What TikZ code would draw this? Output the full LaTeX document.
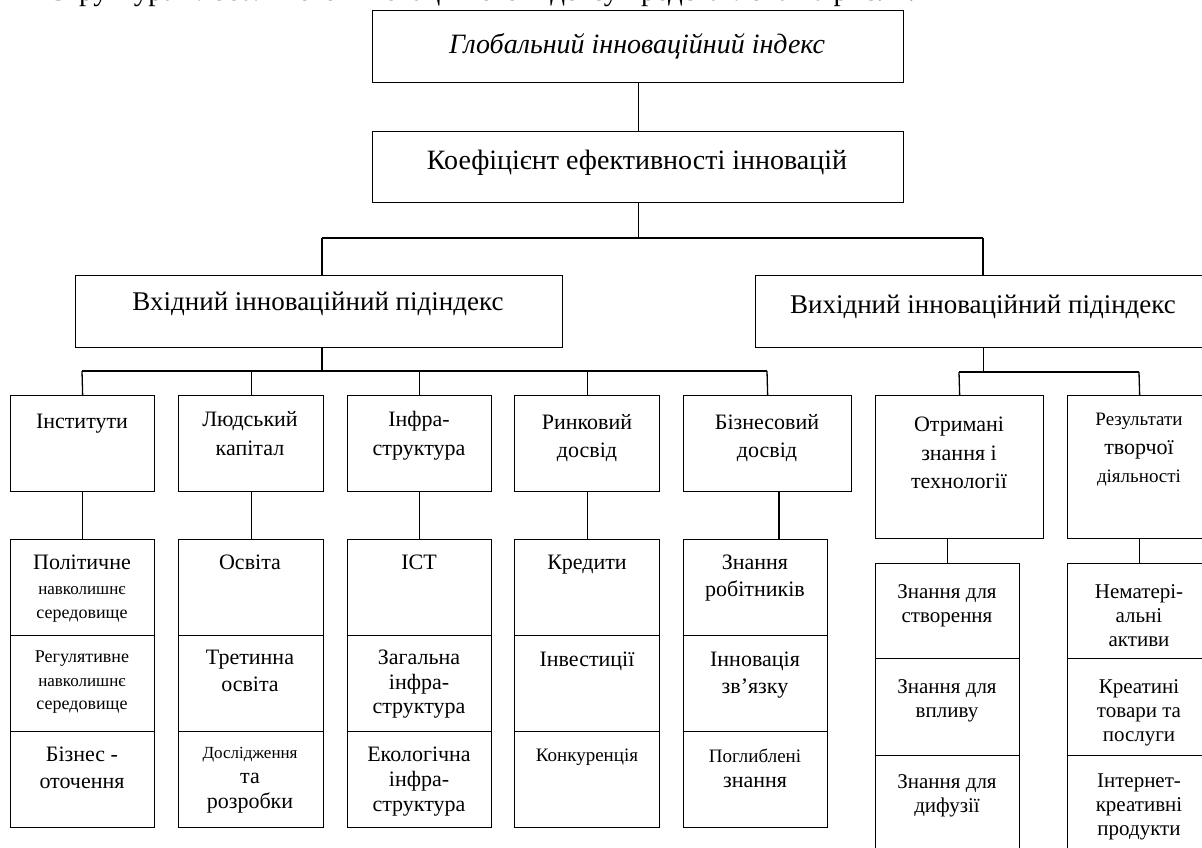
\documentclass[tikz,border=0pt]{standalone}
\usepackage{fontspec}
\setmainfont{Liberation Serif}
\tikzset{
  box/.style={draw, line width=1.3pt, inner sep=0pt, anchor=north west},
  lbl/.style={align=center, inner sep=0pt, anchor=north},
  link/.style={line width=1.3pt},
}
\newcommand\fsz[2]{\fontsize{#1}{#2}\selectfont}
\newcommand\mkbox[5]{\node[box, minimum width={(#4-#2)*1pt}, minimum height={(#5-#3)*1pt}] (#1) at (#2,#3) {};}
\begin{document}
\begin{tikzpicture}[x=1pt, y=-1pt]
\useasboundingbox (0,0) rectangle (1202,848);
\begin{scope}
\clip (0,0) rectangle (1202,848);
% clipped heading line
\node[anchor=base west, inner sep=0pt, font=\fsz{29}{34}] (head) at (47,1) {Структура Глобального інноваційного індексу представлена на рис. 1.};
% boxes
\mkbox{g}{372}{10}{903}{82}
\mkbox{k}{372}{131}{903}{202}
\mkbox{in}{75}{275}{562}{347}
\mkbox{out}{755}{275}{1211}{347}
\mkbox{b1}{10}{395}{154}{491}
\mkbox{b2}{178}{395}{323}{491}
\mkbox{b3}{347}{395}{491}{491}
\mkbox{b4}{514}{395}{659}{491}
\mkbox{b5}{683}{395}{851}{491}
\mkbox{o1}{875}{395}{1043}{538}
\mkbox{o2}{1067}{395}{1211}{538}
% input children
\mkbox{b1a}{10}{539}{154}{635}
\mkbox{b1b}{10}{635}{154}{731}
\mkbox{b1c}{10}{731}{154}{827}
\mkbox{b2a}{178}{539}{323}{635}
\mkbox{b2b}{178}{635}{323}{731}
\mkbox{b2c}{178}{731}{323}{827}
\mkbox{b3a}{347}{539}{491}{635}
\mkbox{b3b}{347}{635}{491}{731}
\mkbox{b3c}{347}{731}{491}{827}
\mkbox{b4a}{514}{539}{659}{635}
\mkbox{b4b}{514}{635}{659}{731}
\mkbox{b4c}{514}{731}{659}{827}
\mkbox{b5a}{683}{539}{827}{635}
\mkbox{b5b}{683}{635}{827}{731}
\mkbox{b5c}{683}{731}{827}{827}
% output children
\mkbox{o1a}{875}{563}{1019}{658}
\mkbox{o1b}{875}{658}{1019}{755}
\mkbox{o1c}{875}{755}{1019}{860}
\mkbox{o2a}{1067}{563}{1211}{658}
\mkbox{o2b}{1067}{658}{1211}{755}
\mkbox{o2c}{1067}{755}{1211}{860}
% labels
\node[lbl, font=\itshape\fsz{28}{34}] (tg) at (637,33) {Глобальний інноваційний індекс};
\node[lbl, font=\fsz{28}{34}] (tk) at (637,150) {Коефіцієнт ефективності інновацій};
\node[lbl, font=\fsz{27}{32}] (tin) at (318,292) {Вхідний інноваційний підіндекс};
\node[lbl, font=\fsz{27}{32}] (tout) at (983,295) {Вихідний інноваційний підіндекс};
\node[lbl, font=\fsz{22}{29}] (tb1) at (82,414) {Інститути};
\node[lbl, font=\fsz{22}{29}] (tb2) at (250,411) {Людський\\капітал};
\node[lbl, font=\fsz{22}{29}] (tb3) at (419,411) {Інфра-\\структура};
\node[lbl, font=\fsz{22}{28}] (tb4) at (587,414) {Ринковий\\досвід};
\node[lbl, font=\fsz{22}{28}] (tb5) at (767,414) {Бізнесовий\\досвід};
\node[lbl, font=\fsz{22}{28.5}] (to1) at (959,417) {Отримані\\знання і\\технології};
\node[lbl, font=\fsz{22}{28.5}] (to2) at (1139,413) {\fsz{19}{28.5}Результати\\творчої\\\fsz{19}{28.5}діяльності};
% level 4 labels
\node[lbl, font=\fsz{22}{24.5}] (tb1a) at (82,555) {Політичне\\\fsz{17}{24.5}навколишнє\\\fsz{18}{24.5}середовище};
\node[lbl, font=\fsz{18}{23.5}] (tb1b) at (82,651) {Регулятивне\\\fsz{17}{23.5}навколишнє\\\fsz{18}{23.5}середовище};
\node[lbl, font=\fsz{22}{27}] (tb1c) at (82,747) {Бізнес -\\оточення};
\node[lbl, font=\fsz{22}{27}] (tb2a) at (250,555) {Освіта};
\node[lbl, font=\fsz{22}{27}] (tb2b) at (250,650) {Третинна\\освіта};
\node[lbl, font=\fsz{22}{25}] (tb2c) at (250,747) {\fsz{17}{25}Дослідження\\та\\розробки};
\node[lbl, font=\fsz{22}{27}] (tb3a) at (419,555) {ІСТ};
\node[lbl, font=\fsz{22}{24.5}] (tb3b) at (419,650) {Загальна\\інфра-\\структура};
\node[lbl, font=\fsz{22}{25}] (tb3c) at (419,747) {Екологічна\\інфра-\\структура};
\node[lbl, font=\fsz{22}{27}] (tb4a) at (587,555) {Кредити};
\node[lbl, font=\fsz{22}{27}] (tb4b) at (587,652) {Інвестиції};
\node[lbl, font=\fsz{19}{25}] (tb4c) at (587,749) {Конкуренція};
\node[lbl, font=\fsz{22}{27}] (tb5a) at (755,555) {Знання\\робітників};
\node[lbl, font=\fsz{22}{27}] (tb5b) at (755,652) {Інновація\\зв’язку};
\node[lbl, font=\fsz{22}{25}] (tb5c) at (755,749) {\fsz{19}{25}Поглиблені\\знання};
\node[lbl, font=\fsz{21}{24}] (to1a) at (947,584) {Знання для\\створення};
\node[lbl, font=\fsz{21}{24}] (to1b) at (947,679) {Знання для\\впливу};
\node[lbl, font=\fsz{21}{24}] (to1c) at (947,774) {Знання для\\дифузії};
\node[lbl, font=\fsz{21}{24}] (to2a) at (1139,584) {Нематері-\\альні\\активи};
\node[lbl, font=\fsz{21}{24}] (to2b) at (1139,679) {Креатині\\товари та\\послуги};
\node[lbl, font=\fsz{21}{24}] (to2c) at (1139,774) {Інтернет-\\креативні\\продукти};
% connectors
\coordinate (bA) at (322,238);
\coordinate (bB) at (983,238);
\coordinate (iA) at (82,371);
\coordinate (iB) at (767,371);
\coordinate (oA) at (959,372);
\coordinate (oB) at (1139,372);
\coordinate (c5) at (779,0);
\draw[link] (g.south) -- (k.north);
\draw[link] (k.south) -- (k.south |- bA);
\draw[link] (bA) -- (bB);
\draw[link] (bA) -- (bA |- in.north);
\draw[link] (bB) -- (bB |- out.north);
\draw[link] (in.south -| bA) -- (bA |- iA);
\draw[link] (iA) -- (iB);
\draw[link] (iA) -- (b1.north);
\draw[link] (b2.north |- iA) -- (b2.north);
\draw[link] (b3.north |- iA) -- (b3.north);
\draw[link] (b4.north |- iA) -- (b4.north);
\draw[link] (iB) -- (b5.north);
\draw[link] (out.south) -- (out.south |- oA);
\draw[link] (oA) -- (oB);
\draw[link] (oA) -- (o1.north);
\draw[link] (oB) -- (o2.north);
\draw[link] (b1.south) -- (b1a.north);
\draw[link] (b2.south) -- (b2a.north);
\draw[link] (b3.south) -- (b3a.north);
\draw[link] (b4.south) -- (b4a.north);
\draw[link] (b5.south -| c5) -- (b5a.north -| c5);
\draw[link] (o1.south -| o1a.north) -- (o1a.north);
\draw[link] (o2.south) -- (o2a.north);
\end{scope}
\end{tikzpicture}
\end{document}
